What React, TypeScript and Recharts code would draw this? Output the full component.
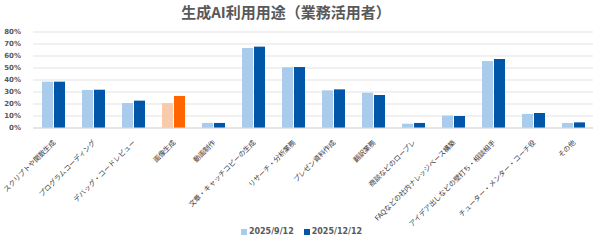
import React from "react";
import { BarChart, Bar, XAxis, YAxis, CartesianGrid, Legend, Cell } from "recharts";

const categories = [
  "スクリプトや関数生成",
  "プログラムコーディング",
  "デバッグ・コードレビュー",
  "画像生成",
  "動画制作",
  "文章・キャッチコピーの生成",
  "リサーチ・分析業務",
  "プレゼン資料作成",
  "翻訳業務",
  "商談などのロープレ",
  "FAQなどの社内ナレッジベース構築",
  "アイデア出しなどの壁打ち・相談相手",
  "チューター・メンター・コーチ役",
  "その他",
];
const sep2025 = [38.6, 31.7, 20.8, 20.8, 4.2, 66.7, 50.6, 31.4, 29.4, 3.6, 10.3, 55.8, 11.7, 4.2];
const dec2025 = [38.6, 31.9, 22.8, 26.7, 4.2, 67.8, 50.8, 32.2, 27.5, 4.2, 10.0, 57.5, 12.5, 4.7];
const yTicks = [0, 10, 20, 30, 40, 50, 60, 70, 80];
const seriesNames = ["2025/9/12", "2025/12/12"];
const highlightCategory = "画像生成";

const data = categories.map((c, i) => ({ name: c, sep: sep2025[i], dec: dec2025[i] }));

const LIGHT = "#A9CBEC";
const DARK = "#0056A8";
const LIGHT_HL = "#F8CBAD";
const DARK_HL = "#FF6600";

const XTick = (props: any) => {
  const { x, y, payload } = props;
  return (
    <g transform={`translate(${x + 3},${y + 7})`}>
      <text
        x={0}
        y={0}
        textAnchor="end"
        transform="rotate(-45)"
        fontSize={7}
        fill="#3A3A3A"
        fontFamily="'Noto Sans CJK JP', sans-serif"
      >
        {payload.value}
      </text>
    </g>
  );
};

const LegendContent = (props: any) => {
  const payload = [...(props.payload || [])].sort(
    (a: any, b: any) => seriesNames.indexOf(a.value) - seriesNames.indexOf(b.value)
  );
  return (
    <div style={{ display: "flex", justifyContent: "center", gap: 10, paddingLeft: 10, paddingTop: 2 }}>
      {payload.map((p: any) => (
        <div key={p.value} style={{ display: "flex", alignItems: "center" }}>
          <span style={{ width: 6, height: 6, background: p.color, display: "inline-block", marginRight: 2 }} />
          <span style={{ fontFamily: "'DejaVu Sans', sans-serif", fontWeight: "bold", fontSize: 8, color: "#595959" }}>
            {p.value}
          </span>
        </div>
      ))}
    </div>
  );
};

export default function App() {
  return (
    <div style={{ position: "absolute", left: 0, top: 0, width: 600, height: 245, background: "#fff" }}>
      <div
        style={{
          position: "absolute",
          left: 0,
          top: 2,
          width: 572,
          textAlign: "center",
          fontFamily: "'Noto Sans CJK JP', sans-serif",
          fontWeight: "bold",
          fontSize: 15,
          color: "#595959",
          lineHeight: "20px",
        }}
      >
        生成AI利用用途（業務活用者）
      </div>
      <BarChart
        width={600}
        height={245}
        data={data}
        margin={{ top: 32, right: 7, left: 0, bottom: 0 }}
        barSize={11}
        barGap={1}
      >
        <CartesianGrid vertical={false} stroke="#E3E3E3" />
        <XAxis
          dataKey="name"
          interval={0}
          tick={<XTick />}
          tickLine={false}
          axisLine={{ stroke: "#D9D9D9" }}
          height={97}
        />
        <YAxis
          width={33}
          domain={[0, 80]}
          ticks={yTicks}
          interval={0}
          tickFormatter={(v: number) => `${v}%`}
          axisLine={false}
          tickLine={false}
          tick={{ fontSize: 7, fontWeight: "bold", fill: "#595959", fontFamily: "'DejaVu Sans', sans-serif" }}
          tickMargin={6}
        />
        <Legend verticalAlign="bottom" height={20} content={<LegendContent />} />
        <Bar dataKey="sep" name={seriesNames[0]} fill={LIGHT} isAnimationActive={false}>
          {data.map((d) => (
            <Cell key={d.name} fill={d.name === highlightCategory ? LIGHT_HL : LIGHT} />
          ))}
        </Bar>
        <Bar dataKey="dec" name={seriesNames[1]} fill={DARK} isAnimationActive={false}>
          {data.map((d) => (
            <Cell key={d.name} fill={d.name === highlightCategory ? DARK_HL : DARK} />
          ))}
        </Bar>
      </BarChart>
    </div>
  );
}
